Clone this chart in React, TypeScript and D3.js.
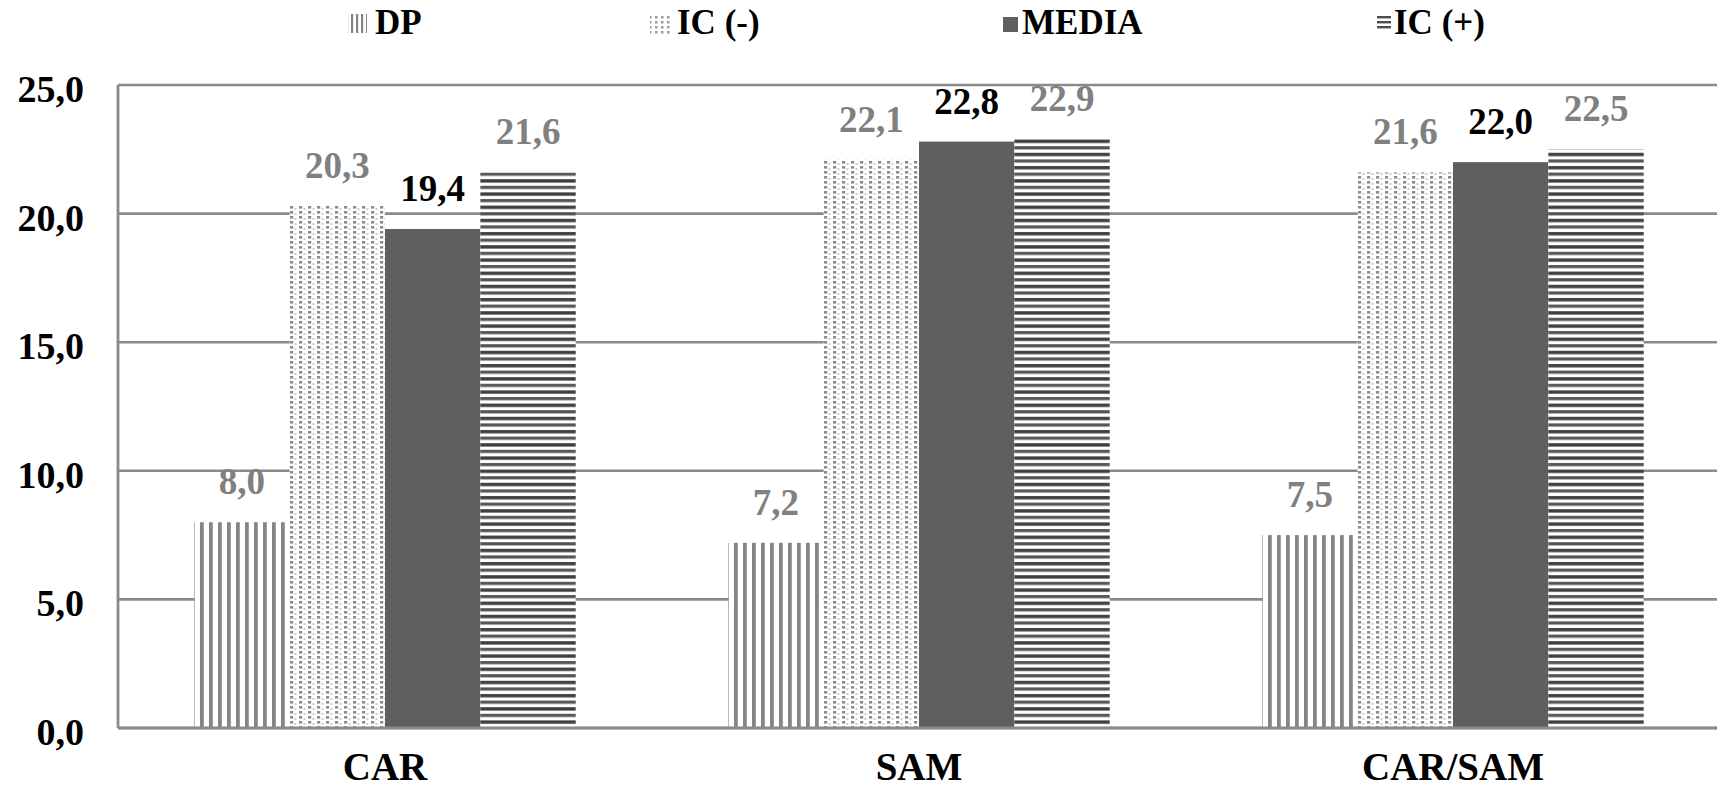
import React from "react";
import * as d3 from "d3";

const categories = ["CAR", "SAM", "CAR/SAM"];
const seriesNames = ["DP", "IC (-)", "MEDIA", "IC (+)"];
const dpValues = [8.0, 7.2, 7.5];
const icMinusValues = [20.3, 22.1, 21.6];
const mediaValues = [19.4, 22.8, 22.0];
const icPlusValues = [21.6, 22.9, 22.5];
const yTicks = [0, 5, 10, 15, 20, 25];

const W = 1717;
const H = 796;
const margin = { left: 118, top: 85, bottom: 68 };
const FONT = "'Liberation Serif', 'Times New Roman', Times, serif";

const seriesValues = [dpValues, icMinusValues, mediaValues, icPlusValues];
const seriesFill = ["url(#pDP)", "url(#pICm)", "#5f5f5f", "url(#pICp)"];
const labelColor = ["#808080", "#808080", "#000000", "#808080"];
const legendFill = ["url(#lDP)", "url(#lICm)", "#5f5f5f", "url(#lICp)"];
// legend layout: symbol x, symbol size, text x
const legendLayout = [
  { sx: 348, sy: 14, s: 19, tx: 375 },
  { sx: 650, sy: 14, s: 20, tx: 677 },
  { sx: 1003, sy: 17, s: 15, tx: 1022 },
  { sx: 1377, sy: 15, s: 14, tx: 1394 },
];

const fmt = (v: number) => d3.format(".1f")(v).replace(".", ",");

export default function App() {
  const y = d3.scaleLinear().domain([0, 25]).range([H - margin.bottom, margin.top]);
  const x0 = d3.scaleBand<string>().domain(categories).range([margin.left, 1720]).padding(0);
  const x1 = d3
    .scaleBand<string>()
    .domain(seriesNames)
    .range([0, x0.bandwidth()])
    .paddingInner(0)
    .paddingOuter(0.8);

  const y0 = y(0);

  return (
    <svg
      width={W}
      height={H}
      style={{
        position: "absolute",
        left: 0,
        top: 0,
        display: "block",
        background: "#fff",
        fontFamily: FONT,
        fontWeight: "bold",
      }}
    >
      <defs>
        <pattern id="pDP" patternUnits="userSpaceOnUse" width={9} height={10}>
          <rect x={0} y={0} width={9} height={10} fill="#fff" />
          <rect x={1} y={0} width={3.8} height={10} fill="#858585" />
        </pattern>
        <pattern id="pICm" patternUnits="userSpaceOnUse" width={9} height={5}>
          <rect x={0} y={0} width={9} height={5} fill="#fff" />
          <rect x={1} y={1} width={3.2} height={2.6} fill="#8c8c8c" />
          <rect x={5.5} y={3.3} width={2} height={1.4} fill="#b8b8b8" />
        </pattern>
        <pattern id="pICp" patternUnits="userSpaceOnUse" width={20} height={13.2}>
          <rect x={0} y={0} width={20} height={13.2} fill="#fff" />
          <rect x={0} y={1} width={20} height={3.2} fill="#555" />
          <rect x={0} y={7.6} width={20} height={3.4} fill="#3f3f3f" />
        </pattern>
        <pattern id="lDP" patternUnits="userSpaceOnUse" width={5} height={10}>
          <rect x={0} y={0} width={5} height={10} fill="#fff" />
          <rect x={1} y={0} width={2.2} height={10} fill="#858585" />
        </pattern>
        <pattern id="lICm" patternUnits="userSpaceOnUse" width={6} height={5}>
          <rect x={0} y={0} width={6} height={5} fill="#fff" />
          <rect x={1} y={1} width={2.5} height={2.5} fill="#9a9a9a" />
        </pattern>
        <pattern id="lICp" patternUnits="userSpaceOnUse" width={20} height={5}>
          <rect x={0} y={0} width={20} height={5} fill="#fff" />
          <rect x={0} y={1} width={20} height={2.4} fill="#4d4d4d" />
        </pattern>
      </defs>

      {/* gridlines */}
      {yTicks.map((t) => (
        <line
          key={"g" + t}
          x1={margin.left}
          x2={W}
          y1={y(t)}
          y2={y(t)}
          stroke="#8a8a8a"
          strokeWidth={2.6}
        />
      ))}

      {/* bars */}
      {categories.map((c, ci) => (
        <g key={c} transform={`translate(${x0(c)},0)`}>
          {seriesNames.map((s, si) => {
            const v = seriesValues[si][ci];
            return (
              <rect
                key={s}
                x={x1(s)}
                y={y(v)}
                width={x1.bandwidth()}
                height={y0 - y(v)}
                fill={seriesFill[si]}
              />
            );
          })}
          {seriesNames.map((s, si) => {
            const v = seriesValues[si][ci];
            return (
              <text
                key={"l" + s}
                x={(x1(s) as number) + x1.bandwidth() / 2}
                y={y(v) - 28}
                textAnchor="middle"
                fontSize={37}
                fill={labelColor[si]}
              >
                {fmt(v)}
              </text>
            );
          })}
          <text x={x0.bandwidth() / 2} y={780} textAnchor="middle" fontSize={39} fill="#000">
            {c}
          </text>
        </g>
      ))}

      {/* axes lines */}
      <line x1={margin.left} x2={margin.left} y1={y(25)} y2={y0} stroke="#8a8a8a" strokeWidth={2.8} />
      <line x1={margin.left} x2={W} y1={y0} y2={y0} stroke="#8a8a8a" strokeWidth={2.8} />

      {/* y tick labels */}
      {yTicks.map((t) => (
        <text key={"t" + t} x={84} y={y(t) + 17} textAnchor="end" fontSize={38} fill="#000">
          {fmt(t)}
        </text>
      ))}

      {/* legend */}
      {seriesNames.map((s, i) => {
        const L = legendLayout[i];
        return (
          <g key={"lg" + s}>
            <rect x={L.sx} y={L.sy} width={L.s} height={L.s} fill={legendFill[i]} />
            <text x={L.tx} y={34} fontSize={35} fill="#000">
              {s}
            </text>
          </g>
        );
      })}
    </svg>
  );
}
